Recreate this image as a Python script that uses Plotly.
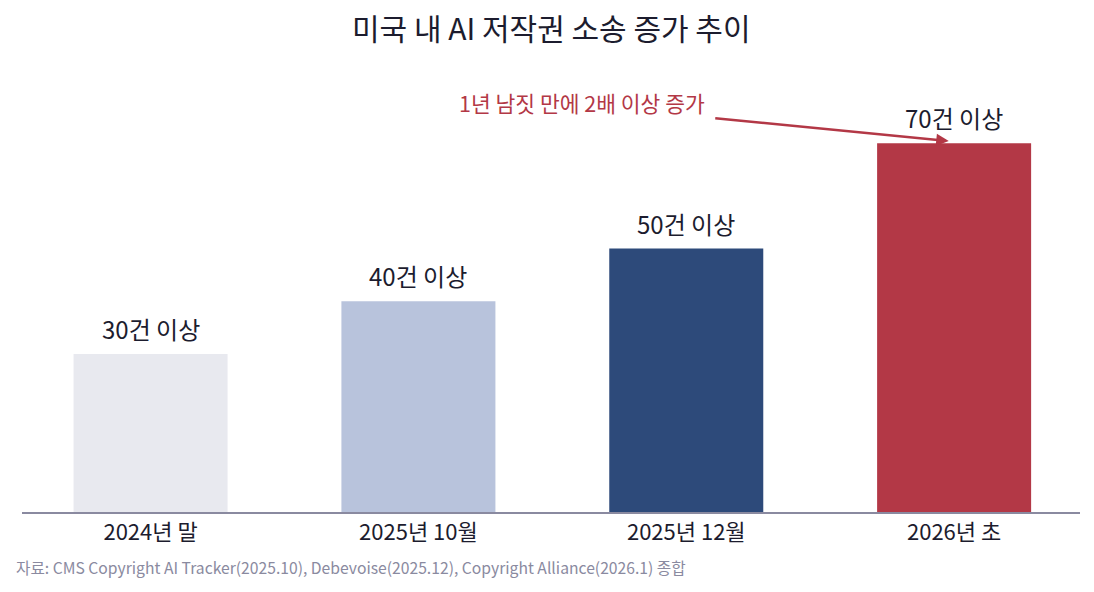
import plotly.graph_objects as go

periods = ['2024년 말', '2025년 10월', '2025년 12월', '2026년 초']
cases = [30, 40, 50, 70]
case_labels = ['30건 이상', '40건 이상', '50건 이상', '70건 이상']
bar_colors = ['#e8e9ef', '#b8c3dc', '#2d4a7a', '#b33846']

FONT = 'Noto Sans CJK KR'


def main():
    fig = go.Figure(go.Bar(
        x=list(range(len(periods))), y=cases,
        marker=dict(color=bar_colors, line=dict(width=0)),
        width=0.575, hoverinfo='skip'))

    # value labels above the bars
    for i, (v, lab) in enumerate(zip(cases, case_labels)):
        fig.add_annotation(x=i, y=v, text=lab, showarrow=False,
                           yanchor='bottom', yshift=6,
                           font=dict(family=FONT, size=24, color='#1c1c2e'))

    # arrow pointing at the last bar
    fig.add_annotation(x=2.98, y=70.4, ax=-235, ay=-23, text='',
                       showarrow=True, arrowhead=2, arrowsize=1,
                       arrowwidth=2.5, arrowcolor='#b33846')
    fig.add_annotation(x=1.61, y=77.8, text='1년 남짓 만에 2배 이상 증가',
                       showarrow=False, font=dict(family=FONT, size=21.5, color='#b33846'))

    # title as an annotation
    fig.add_annotation(text='미국 내 AI 저작권 소송 증가 추이', xref='paper', yref='paper',
                       x=0.5, y=1, xanchor='center', yanchor='middle', yshift=53,
                       showarrow=False, font=dict(family=FONT, size=30, color='#1c1c2e'))

    fig.add_annotation(text='자료: CMS Copyright AI Tracker(2025.10), Debevoise(2025.12), Copyright Alliance(2026.1) 종합',
                       xref='paper', yref='paper', x=0, y=0, xanchor='left', yanchor='middle',
                       xshift=-8, yshift=-55, showarrow=False,
                       font=dict(family=FONT, size=15.7, color='#8a8aa0'))

    # page body adds 8px around the figure, so size is 1094-8 x 592-8
    fig.update_layout(
        width=1086, height=584,
        margin=dict(l=14, r=14, t=72, b=80),
        paper_bgcolor='white', plot_bgcolor='white',
        showlegend=False,
        font=dict(family=FONT),
    )
    fig.update_xaxes(tickmode='array', tickvals=list(range(len(periods))), ticktext=periods,
                     range=[-0.48, 3.47], showgrid=False, showline=True, linecolor='#8a8aa0',
                     linewidth=1.5, ticks='', zeroline=False,
                     tickfont=dict(family=FONT, size=22, color='#1c1c2e'))
    fig.update_yaxes(range=[0, 82], visible=False, showgrid=False, zeroline=False)
    fig.write_html('out.html')


if __name__ == '__main__':
    main()
